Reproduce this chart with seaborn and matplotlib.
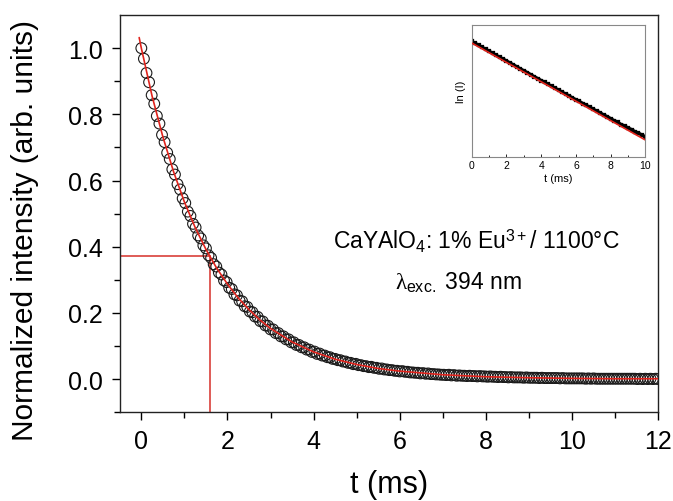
import numpy as np
import pandas as pd
import matplotlib
matplotlib.use("Agg")
import matplotlib.pyplot as plt
import seaborn as sns

# decay data, sampled every 0.06 ms from 0 to 12 ms
t_start, t_end = 0.0, 12.0
main_I = [
    1.000, 0.968, 0.925, 0.897, 0.858, 0.832, 0.795, 0.772, 0.738, 0.716,
    0.684, 0.665, 0.634, 0.618, 0.589, 0.573, 0.546, 0.532, 0.506, 0.493,
    0.469, 0.458, 0.434, 0.425, 0.404, 0.395, 0.374, 0.366, 0.347, 0.340,
    0.322, 0.316, 0.298, 0.293, 0.276, 0.272, 0.256, 0.253, 0.237, 0.235,
    0.220, 0.218, 0.204, 0.202, 0.189, 0.188, 0.175, 0.174, 0.162, 0.161,
    0.150, 0.150, 0.139, 0.139, 0.129, 0.129, 0.120, 0.120, 0.111, 0.111,
    0.103, 0.103, 0.096, 0.096, 0.089, 0.089, 0.082, 0.083, 0.076, 0.077,
    0.071, 0.071, 0.066, 0.066, 0.061, 0.061, 0.057, 0.057, 0.053, 0.053,
    0.049, 0.049, 0.045, 0.046, 0.042, 0.042, 0.039, 0.039, 0.036, 0.037,
    0.034, 0.034, 0.031, 0.032, 0.029, 0.029, 0.027, 0.027, 0.025, 0.025,
    0.023, 0.024, 0.022, 0.022, 0.020, 0.020, 0.019, 0.019, 0.017, 0.018,
    0.016, 0.017, 0.015, 0.015, 0.014, 0.014, 0.013, 0.013, 0.012, 0.013,
    0.011, 0.012, 0.010, 0.011, 0.010, 0.010, 0.009, 0.010, 0.009, 0.009,
    0.008, 0.009, 0.008, 0.008, 0.007, 0.008, 0.007, 0.007, 0.006, 0.007,
    0.006, 0.006, 0.005, 0.006, 0.005, 0.005, 0.005, 0.005, 0.004, 0.005,
    0.004, 0.004, 0.004, 0.004, 0.003, 0.004, 0.003, 0.003, 0.003, 0.003,
    0.003, 0.003, 0.002, 0.003, 0.002, 0.002, 0.002, 0.002, 0.002, 0.002,
    0.002, 0.002, 0.001, 0.002, 0.001, 0.002, 0.001, 0.001, 0.001, 0.001,
    0.001, 0.001, 0.001, 0.001, 0.001, 0.001, 0.001, 0.001, 0.001, 0.001,
    0.001, 0.001, 0.000, 0.001, 0.000, 0.001, 0.000, 0.001, 0.000, 0.001, 0.000,
]

# red fit curve
fit_t = [-0.05, 0.0, 0.25, 0.5, 0.75, 1.0, 1.25, 1.5, 1.75, 2.0, 2.25, 2.5, 2.75,
         3.0, 3.5, 4.0, 4.5, 5.0, 5.5, 6.0, 7.0, 8.0, 9.0, 10.0, 11.0, 12.0]
fit_I = [1.032, 1.000, 0.855, 0.732, 0.626, 0.535, 0.458, 0.392, 0.335, 0.287, 0.245,
         0.210, 0.179, 0.153, 0.112, 0.082, 0.060, 0.044, 0.032, 0.024, 0.013, 0.007,
         0.004, 0.002, 0.001, 0.001]

# lifetime marker (1/e)
tau = 1.6
I_tau = 0.372

# inset: ln(I) vs t
inset_t = [0.0, 0.2, 0.4, 0.6, 0.8, 1.0, 1.2, 1.4, 1.6, 1.8, 2.0, 2.2, 2.4, 2.6, 2.8,
           3.0, 3.2, 3.4, 3.6, 3.8, 4.0, 4.2, 4.4, 4.6, 4.8, 5.0, 5.2, 5.4, 5.6, 5.8,
           6.0, 6.2, 6.4, 6.6, 6.8, 7.0, 7.2, 7.4, 7.6, 7.8, 8.0, 8.2, 8.4, 8.6, 8.8,
           9.0, 9.2, 9.4, 9.6, 9.8, 10.0]
inset_lnI = [0.02, -0.10, -0.23, -0.36, -0.48, -0.61, -0.74, -0.86, -0.99, -1.11,
             -1.23, -1.36, -1.48, -1.61, -1.74, -1.86, -1.98, -2.11, -2.24, -2.36,
             -2.49, -2.61, -2.73, -2.86, -2.98, -3.10, -3.23, -3.35, -3.47, -3.60,
             -3.72, -3.83, -3.96, -4.08, -4.20, -4.33, -4.45, -4.56, -4.70, -4.80,
             -4.93, -5.06, -5.16, -5.31, -5.40, -5.53, -5.63, -5.77, -5.86, -5.98, -6.10]
inset_fit_t = [0.0, 10.0]
inset_fit_lnI = [-0.08, -6.30]

sns.set_style("ticks")
plt.rcParams['font.family'] = ['Liberation Sans', 'DejaVu Sans']
plt.rcParams['mathtext.fontset'] = 'custom'
plt.rcParams['mathtext.rm'] = 'Liberation Sans'
plt.rcParams['mathtext.it'] = 'Liberation Serif'
plt.rcParams['mathtext.sf'] = 'Liberation Sans'
for k in ['text.color', 'axes.labelcolor', 'xtick.color', 'ytick.color', 'axes.edgecolor']:
    plt.rcParams[k] = 'black'

df = pd.DataFrame({'t': np.linspace(t_start, t_end, len(main_I)), 'I': main_I})
fit_df = pd.DataFrame({'t': fit_t, 'I': fit_I})

fig = plt.figure(figsize=(6.73, 5.02), dpi=100)
ax = fig.add_axes([0.178, 0.177, 0.800, 0.791])

red = '#e0231c'
ax.plot([-0.5, tau], [I_tau, I_tau], color='#d9403a', lw=1.2, zorder=1)
ax.plot([tau, tau], [-0.1, I_tau], color='#d9403a', lw=1.2, zorder=1)
sns.scatterplot(data=df, x='t', y='I', ax=ax, marker='o', s=60,
                facecolor='none', edgecolor='#1a1a1a', linewidth=0.8, zorder=2)
sns.lineplot(data=fit_df, x='t', y='I', ax=ax, color=red, lw=1.2, zorder=3)

ax.set_xlim(-0.5, 12)
ax.set_ylim(-0.1, 1.1)
ax.set_xticks([0, 2, 4, 6, 8, 10, 12])
ax.set_xticks([1, 3, 5, 7, 9, 11], minor=True)
ax.set_yticks([0.0, 0.2, 0.4, 0.6, 0.8, 1.0])
ax.set_yticks([-0.1, 0.1, 0.3, 0.5, 0.7, 0.9], minor=True)
ax.set_yticklabels(['0.0', '0.2', '0.4', '0.6', '0.8', '1.0'])
ax.tick_params(which='major', direction='out', length=6, width=1, labelsize=18, pad=6)
ax.tick_params(which='minor', direction='out', length=4, width=1)
ax.set_xlabel('t (ms)', fontsize=22, labelpad=12)
ax.set_ylabel('Normalized intensity (arb. units)', fontsize=21.5)
ax.yaxis.set_label_coords(-0.15, 0.46)
for sp in ax.spines.values():
    sp.set_linewidth(1.0)
    sp.set_color('#222222')

ax.text(4.45, 0.42, r'CaYAlO$_4$: 1% Eu$^{3+}$/ 1100°C', fontsize=16.5, va='center')
ax.text(5.9, 0.295, r'$\lambda_{\mathrm{exc.}}$ 394 nm', fontsize=16.5, va='center')

# inset
axi = fig.add_axes([0.701, 0.685, 0.258, 0.263])
inset_df = pd.DataFrame({'t': inset_t, 'lnI': inset_lnI})
axi.plot(inset_t, inset_lnI, color='black', lw=2.4, zorder=2)
sns.scatterplot(data=inset_df, x='t', y='lnI', ax=axi, marker='s', s=5,
                color='black', edgecolor='black', zorder=2)
sns.lineplot(x=inset_fit_t, y=inset_fit_lnI, ax=axi, color=red, lw=1.2, zorder=3)
axi.set_xlim(0, 10)
axi.set_ylim(-7.4, 1.07)
axi.set_xticks([0, 2, 4, 6, 8, 10])
axi.set_xticks([1, 3, 5, 7, 9], minor=True)
axi.set_yticks([])
axi.tick_params(which='major', direction='in', length=2.5, width=0.6, labelsize=7.5, pad=2)
axi.tick_params(which='minor', direction='in', length=1.5, width=0.6)
axi.set_xlabel('t (ms)', fontsize=8, labelpad=2)
axi.set_ylabel('ln (I)', fontsize=8, labelpad=4)
for sp in axi.spines.values():
    sp.set_linewidth(0.8)
    sp.set_color('#888888')

fig.savefig('out.png', dpi=100)
